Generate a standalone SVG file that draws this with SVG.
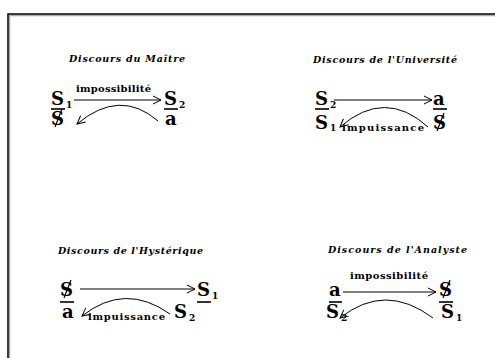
<svg xmlns="http://www.w3.org/2000/svg" width="495" height="358" viewBox="0 0 495 358">
<style>
.t{font-family:"DejaVu Serif","Liberation Serif",serif;font-style:italic;font-weight:bold;font-size:9.5px;fill:#000}
.m{font-family:"DejaVu Serif","Liberation Serif",serif;font-weight:bold;font-size:18px;fill:#000}
.sub{font-family:"DejaVu Serif","Liberation Serif",serif;font-weight:bold;font-size:9px;fill:#000}
.l{font-family:"DejaVu Serif","Liberation Serif",serif;font-size:10px;font-weight:bold;fill:#000}
.bar{stroke:#000;stroke-width:1.6}
.sl{stroke:#000;stroke-width:1.2}
.c{fill:none;stroke:#000;stroke-width:1}
</style>
<defs>
<marker id="ah" markerWidth="10" markerHeight="10" refX="9" refY="5" orient="auto" markerUnits="userSpaceOnUse">
<path d="M1,1 L9,5 L1,9" fill="none" stroke="#000" stroke-width="1"/>
</marker>
</defs>
<rect width="495" height="358" fill="#fff"/>
<g id="frame">
<path d="M9.5,358 V15.5 H495" fill="none" stroke="#aaa" stroke-width="1.5"/>
<path d="M8,358 V14 H495" fill="none" stroke="#000" stroke-width="1.5"/>
</g>

<g id="maitre">
<text class="t" x="69" y="62" textLength="116">Discours du Maître</text>
<text class="m" x="51" y="105">S</text><text class="sub" x="66" y="108">1</text>
<line class="bar" x1="51" y1="109" x2="65" y2="109"/>
<text class="m" x="51" y="125">S</text><line class="sl" x1="62" y1="109" x2="55" y2="127"/>
<text class="l" x="76" y="92" textLength="75">impossibilité</text>
<text class="m" x="164" y="105">S</text><text class="sub" x="179" y="108">2</text>
<line class="bar" x1="164" y1="109" x2="178" y2="109"/>
<text class="m" x="165" y="125">a</text>
</g>

<g id="universite">
<text class="t" x="313" y="63" textLength="144">Discours de l'Université</text>
<text class="m" x="315" y="105">S</text><text class="sub" x="330" y="108">2</text>
<line class="bar" x1="315" y1="109" x2="329" y2="109"/>
<text class="m" x="315" y="129">S</text><text class="sub" x="330" y="131">1</text>
<text class="m" x="433" y="105">a</text>
<line class="bar" x1="433" y1="109" x2="447" y2="109"/>
<text class="m" x="433" y="129">S</text><line class="sl" x1="444" y1="113" x2="437" y2="131"/>
<text class="l" x="342" y="131" textLength="82">impuissance</text>
</g>

<g id="hysterique">
<text class="t" x="58" y="254" textLength="145">Discours de l'Hystérique</text>
<text class="m" x="60" y="296">S</text><line class="sl" x1="71" y1="280" x2="64" y2="298"/>
<line class="bar" x1="60" y1="302" x2="74" y2="302"/>
<text class="m" x="62" y="318">a</text>
<text class="m" x="197" y="296">S</text><text class="sub" x="212" y="299">1</text>
<line class="bar" x1="197" y1="302" x2="211" y2="302"/>
<text class="m" x="174" y="318">S</text><text class="sub" x="189" y="321">2</text>
<text class="l" x="88" y="320" textLength="77">impuissance</text>
</g>

<g id="analyste">
<text class="t" x="328" y="253" textLength="139">Discours de l'Analyste</text>
<text class="l" x="350" y="279" textLength="78">impossibilité</text>
<text class="m" x="329" y="296">a</text>
<line class="bar" x1="329" y1="302" x2="342" y2="302"/>
<text class="m" x="326" y="318">S</text><text class="sub" x="341" y="321">2</text>
<text class="m" x="439" y="296">S</text><line class="sl" x1="450" y1="280" x2="443" y2="298"/>
<line class="bar" x1="439" y1="302" x2="453" y2="302"/>
<text class="m" x="441" y="318">S</text><text class="sub" x="456" y="321">1</text>
</g>

<g id="connectors">
<line class="c" x1="74" y1="100" x2="161" y2="100" marker-end="url(#ah)"/>
<path class="c" d="M158,121 Q120,88 77,124" marker-end="url(#ah)"/>
<line class="c" x1="334" y1="100" x2="432" y2="100" marker-end="url(#ah)"/>
<path class="c" d="M428,127 Q385,88 340,127" marker-end="url(#ah)"/>
<line class="c" x1="80" y1="289" x2="195" y2="289" marker-end="url(#ah)"/>
<path class="c" d="M170,314 Q125,282 82,316" marker-end="url(#ah)"/>
<line class="c" x1="343" y1="292" x2="436" y2="292" marker-end="url(#ah)"/>
<path class="c" d="M433,318 Q385,282 340,318" marker-end="url(#ah)"/>
</g>
</svg>
